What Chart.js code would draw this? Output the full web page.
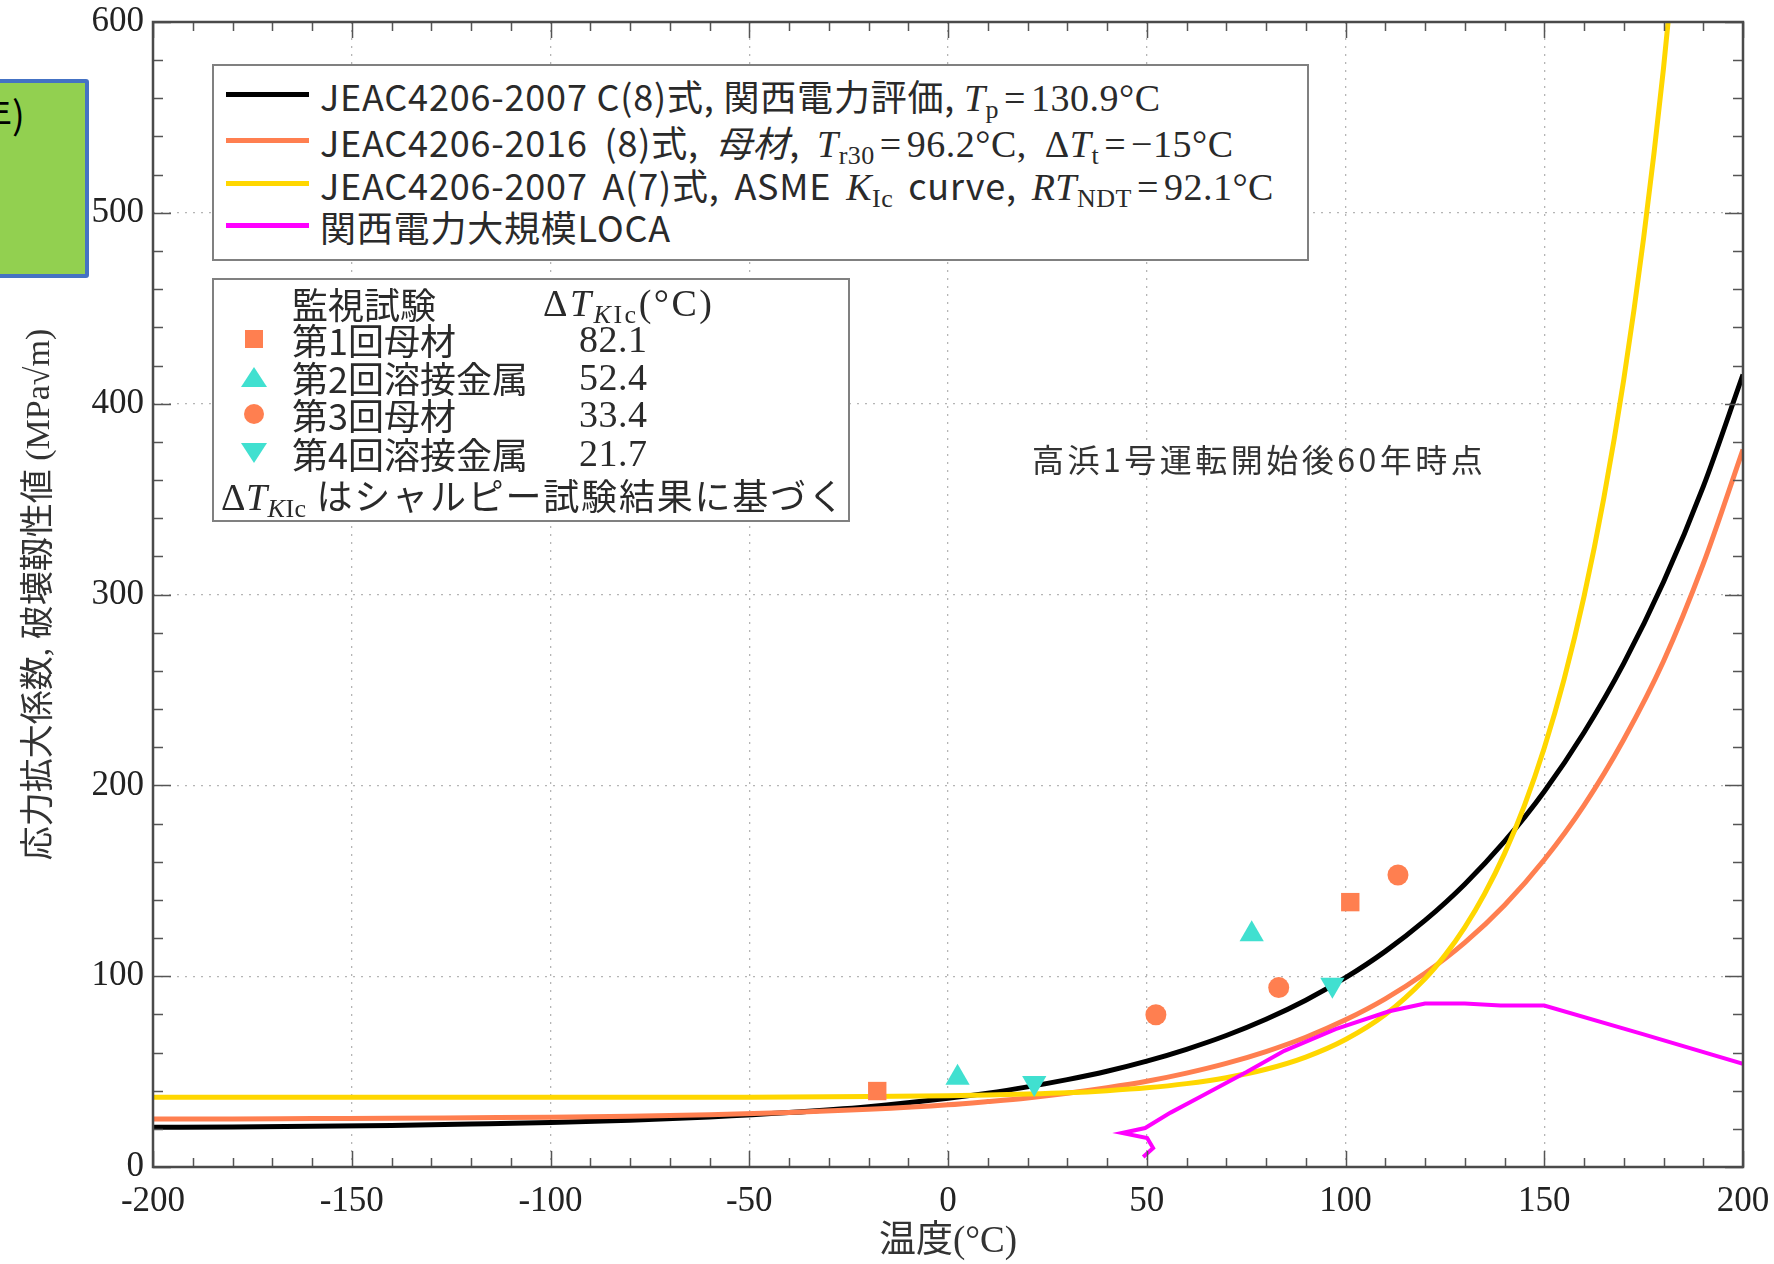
<!DOCTYPE html>
<html>
<head>
<meta charset="utf-8">
<script src="https://cdn.jsdelivr.net/npm/chart.js@4.4.0/dist/chart.umd.min.js"></script>
<style>
  html, body { margin: 0; padding: 0; background: #fff; }
  #wrap { position: relative; width: 1774px; height: 1264px; overflow: hidden; }
  #chart { position: absolute; left: 0; top: 0; }
  .box { position: absolute; background: #fff; border: 2px solid #808080; box-sizing: border-box; }
  .row { position: absolute; left: 0; height: 40px; line-height: 40px; white-space: nowrap;
         font-family: "Noto Sans CJK JP", "Noto Sans", sans-serif; font-size: 36px; color: #2a2a2a; }
  .wide { letter-spacing: 0.8px; }
  .sw { position: absolute; left: 12px; top: 17px; width: 83px; height: 5px; }
  .m { font-family: "Liberation Serif", serif; font-size: 38px; letter-spacing: 0.5px; }
  .m sub { font-size: 26px; vertical-align: -7px; line-height: 0; }
  .eq { padding: 0 5px; }
  .mk { position: absolute; }
  #note { position: absolute; left: 1032px; top: 438px; font-family: "Noto Sans CJK JP", sans-serif;
          font-size: 32px; letter-spacing: 3.5px; color: #333; line-height: 40px; white-space: nowrap; }
  #green { position: absolute; left: -20px; top: 79px; width: 109px; height: 199px; box-sizing: border-box;
           background: #92D050; border: 4px solid #4472C4; border-radius: 3px; overflow: hidden; }
  #green span { position: absolute; left: -10px; top: 8px; font-family: "Noto Sans CJK JP", sans-serif;
                font-size: 38px; color: #000; white-space: nowrap; line-height: 44px; }
</style>
</head>
<body>
<div id="wrap">
  <canvas id="chart" width="1774" height="1264"></canvas>

  <div id="green"><span>年)</span></div>

  <div class="box" style="left:212px;top:64px;width:1097px;height:197px;">
    <div class="row wide" style="top:9px;"><span class="sw" style="background:#000;"></span>
      <span style="position:absolute;left:106px;">JEAC4206-2007 C(8)式, 関西電力評価, <span class="m"><i>T</i><sub>p</sub><span class="eq">=</span>130.9°C</span></span></div>
    <div class="row wide" style="top:55px;word-spacing:8px;"><span class="sw" style="background:#FF7F50;"></span>
      <span style="position:absolute;left:106px;">JEAC4206-2016 (8)式, <i>母材</i>, <span class="m"><i>T</i><sub>r30</sub><span class="eq">=</span>96.2°C, Δ<i>T</i><sub>t</sub><span class="eq">=</span>−15°C</span></span></div>
    <div class="row wide" style="top:98px;word-spacing:6px;"><span class="sw" style="background:#FFD700;"></span>
      <span style="position:absolute;left:106px;">JEAC4206-2007 A(7)式, ASME <span class="m"><i>K</i><sub>Ic</sub></span> curve, <span class="m"><i>RT</i><sub>NDT</sub><span class="eq">=</span>92.1°C</span></span></div>
    <div class="row wide" style="top:140px;"><span class="sw" style="background:#FF00FF;"></span>
      <span style="position:absolute;left:106px;">関西電力大規模LOCA</span></div>
  </div>

  <div class="box" style="left:212px;top:278px;width:638px;height:244px;">
    <div class="row" style="top:3px;"><span style="position:absolute;left:78px;">監視試験</span>
      <span class="m" style="position:absolute;left:329px;letter-spacing:2.5px;">Δ<i>T</i><sub><i>K</i>Ic</sub>(°C)</span></div>
    <div class="row" style="top:39px;"><span class="mk" style="left:31px;top:11px;width:18px;height:18px;background:#FF7F50;"></span>
      <span style="position:absolute;left:78px;">第1回母材</span><span class="m" style="position:absolute;left:365px;">82.1</span></div>
    <div class="row" style="top:77px;"><span class="mk" style="left:27px;top:10px;width:0;height:0;border-left:13px solid transparent;border-right:13px solid transparent;border-bottom:20px solid #40E0D0;"></span>
      <span style="position:absolute;left:78px;">第2回溶接金属</span><span class="m" style="position:absolute;left:365px;">52.4</span></div>
    <div class="row" style="top:114px;"><span class="mk" style="left:30px;top:10px;width:20px;height:20px;border-radius:50%;background:#FF7F50;"></span>
      <span style="position:absolute;left:78px;">第3回母材</span><span class="m" style="position:absolute;left:365px;">33.4</span></div>
    <div class="row" style="top:153px;"><span class="mk" style="left:27px;top:10px;width:0;height:0;border-left:13px solid transparent;border-right:13px solid transparent;border-top:20px solid #40E0D0;"></span>
      <span style="position:absolute;left:78px;">第4回溶接金属</span><span class="m" style="position:absolute;left:365px;">21.7</span></div>
    <div class="row" style="top:194px;letter-spacing:1.8px;"><span style="position:absolute;left:7px;"><span class="m">Δ<i>T</i><sub><i>K</i>Ic</sub></span> はシャルピー試験結果に基づく</span></div>
  </div>

  <div id="note">高浜1号運転開始後60年時点</div>
</div>

<script>
// JEAC4206-2007 C(8), Tp = 130.9
const curveT = [-200, -180, -160, -140, -120, -100, -80, -60, -40, -20, 0, 10, 20, 30, 40, 50, 60, 70, 80, 90,
  100, 110, 120, 130, 140, 150, 160, 170, 180, 190, 200];
const kJeac2007C = [20.8, 21.0, 21.4, 21.8, 22.5, 23.3, 24.5, 26.2, 28.5, 31.6, 36.0, 38.7, 42.0, 45.8, 50.2, 55.5,
  61.7, 68.9, 77.4, 87.4, 99.2, 113.0, 129.2, 148.2, 170.6, 196.8, 227.7, 263.9, 306.5, 356.5, 415.3];
// JEAC4206-2016 (8), base metal
const kJeac2016 = [25.2, 25.2, 25.4, 25.5, 25.8, 26.1, 26.6, 27.4, 28.5, 30.2, 32.6, 34.3, 36.2, 38.6, 41.5, 44.9,
  49.2, 54.3, 60.5, 68.0, 77.1, 88.1, 101.5, 117.6, 137.2, 161.0, 189.5, 224.0, 265.0, 316.0, 376.0];
// ASME KIc curve, RTNDT = 92.1
const asmeT = [-200, -100, -50, -20, 0, 10, 20, 30, 40, 50, 60, 70, 80, 90, 100, 110, 120, 125, 130, 135, 140,
  145, 150, 155, 160, 165, 170, 175, 180, 185];
const asmeK = [36.5, 36.5, 36.6, 36.9, 37.3, 37.7, 38.2, 38.9, 40.0, 41.5, 43.7, 46.8, 51.2, 57.6, 66.8, 79.9,
  98.7, 110.9, 125.6, 143.2, 164.2, 189.4, 219.6, 255.7, 298.9, 350.7, 412.6, 486.8, 575.7, 681.8];
// 関西電力大規模LOCA
const locaT = [49.1, 51.6, 50.1, 43.8, 49.6, 56, 63.5, 75, 84.6, 97.5, 111, 120, 130, 139, 150, 175, 200];
const locaK = [5.3, 9.9, 15.2, 17.8, 20.4, 28.5, 36.8, 49.6, 60.9, 72.2, 81.6, 85.7, 85.7, 84.6, 84.6, 69.5, 54];
// 監視試験
const test1T = [-17.8, 101.2], test1K = [39.8, 138.8];
const test2T = [2.4, 76.4], test2K = [46.8, 122.0];
const test3T = [52.3, 83.2, 113.2], test3K = [79.8, 94.0, 153.0];
const test4T = [21.7, 96.7], test4K = [44.0, 95.5];

const xMinorStep = 10, yMinorStep = 20;

const pts = (xs, ys) => xs.map((x, i) => ({ x: x, y: ys[i] }));

const serif = "'Liberation Serif', 'Noto Sans CJK JP', serif";

// inward ticks on all four sides plus the box
const frameTicks = {
  id: 'frameTicks',
  afterDatasetsDraw(chart) {
    const { ctx, chartArea: a, scales: { x, y } } = chart;
    ctx.save();
    ctx.strokeStyle = '#555';
    ctx.lineWidth = 1.5;
    ctx.beginPath();
    for (let v = x.min; v <= x.max; v += xMinorStep) {
      const px = Math.round(x.getPixelForValue(v)) + 0.5;
      const len = v % 50 === 0 ? 16 : 9;
      ctx.moveTo(px, a.bottom); ctx.lineTo(px, a.bottom - len);
      ctx.moveTo(px, a.top); ctx.lineTo(px, a.top + len);
    }
    for (let v = y.min; v <= y.max; v += yMinorStep) {
      const py = Math.round(y.getPixelForValue(v)) + 0.5;
      const len = v % 100 === 0 ? 18 : 10;
      ctx.moveTo(a.left, py); ctx.lineTo(a.left + len, py);
      ctx.moveTo(a.right, py); ctx.lineTo(a.right - len, py);
    }
    ctx.stroke();
    ctx.lineWidth = 2.5;
    ctx.strokeStyle = '#4a4a4a';
    ctx.strokeRect(a.left, a.top, a.right - a.left, a.bottom - a.top);
    ctx.restore();
  }
};

const ctx = document.getElementById('chart').getContext('2d');
const chart = new Chart(ctx, {
  type: 'scatter',
  data: {
    datasets: [
      { label: '第1回母材', data: pts(test1T, test1K), pointStyle: 'rect', pointRadius: 13,
        backgroundColor: '#FF7F50', borderWidth: 0, order: 0 },
      { label: '第2回溶接金属', data: pts(test2T, test2K), pointStyle: 'triangle', pointRadius: 14,
        backgroundColor: '#40E0D0', borderWidth: 0, order: 0 },
      { label: '第3回母材', data: pts(test3T, test3K), pointStyle: 'circle', pointRadius: 10.5,
        backgroundColor: '#FF7F50', borderWidth: 0, order: 0 },
      { label: '第4回溶接金属', data: pts(test4T, test4K), pointStyle: 'triangle', pointRotation: 180, pointRadius: 14,
        backgroundColor: '#40E0D0', borderWidth: 0, order: 0 },
      { label: '関西電力大規模LOCA', data: pts(locaT, locaK), showLine: true, pointRadius: 0,
        borderColor: '#FF00FF', borderWidth: 4, tension: 0, order: 1 },
      { label: 'ASME KIc', data: pts(asmeT, asmeK), showLine: true, pointRadius: 0,
        borderColor: '#FFD700', borderWidth: 5, cubicInterpolationMode: 'monotone', order: 2 },
      { label: 'JEAC4206-2016', data: pts(curveT, kJeac2016), showLine: true, pointRadius: 0,
        borderColor: '#FF7F50', borderWidth: 5, cubicInterpolationMode: 'monotone', order: 3 },
      { label: 'JEAC4206-2007 C', data: pts(curveT, kJeac2007C), showLine: true, pointRadius: 0,
        borderColor: '#000000', borderWidth: 5, cubicInterpolationMode: 'monotone', order: 4 }
    ]
  },
  options: {
    responsive: false,
    animation: false,
    devicePixelRatio: 1,
    layout: { padding: { top: 22, right: 31, left: 0, bottom: 0 } },
    plugins: { legend: { display: false }, tooltip: { enabled: false } },
    scales: {
      x: {
        type: 'linear', min: -200, max: 200,
        ticks: { stepSize: 50, padding: 14, color: '#222', maxRotation: 0, autoSkip: false,
                 font: { family: serif, size: 35 } },
        grid: { color: '#b5b5b5', lineWidth: 1.3, drawTicks: false },
        border: { display: false, dash: [2, 6] },
        title: { display: true, text: '温度(°C)', color: '#333', font: { family: serif, size: 37 },
                 padding: { top: 0, bottom: 0 } },
        afterFit: s => { s.height = 97; s.paddingLeft = 0; s.paddingRight = 0; }
      },
      y: {
        type: 'linear', min: 0, max: 600,
        ticks: { stepSize: 100, padding: 9, color: '#222', font: { family: serif, size: 35 } },
        grid: { color: '#b5b5b5', lineWidth: 1.3, drawTicks: false },
        border: { display: false, dash: [2, 6] },
        title: { display: true, text: '応力拡大係数, 破壊靱性値 (MPa√m)', color: '#333',
                 font: { family: serif, size: 34 }, padding: { top: 20, bottom: 0 } },
        afterFit: s => { s.width = 153; s.paddingTop = 0; s.paddingBottom = 0; }
      }
    }
  },
  plugins: [frameTicks]
});
</script>
</body>
</html>
